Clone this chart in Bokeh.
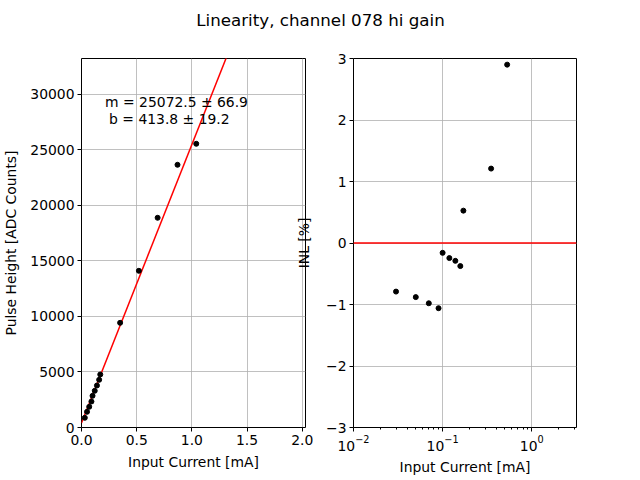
from bokeh.plotting import figure
from bokeh.layouts import column, row
from bokeh.models import (Label, Span, SingleIntervalTicker, FixedTicker, Range1d,
                          PrintfTickFormatter)
from bokeh.embed import file_html
from bokeh.resources import INLINE

# ---------------- data ----------------
title_text = "Linearity, channel 078 hi gain"
current_mA = [0.03, 0.05, 0.07, 0.09, 0.10, 0.12, 0.14, 0.16, 0.17, 0.35, 0.52, 0.69, 0.87, 1.04]
pulse_height = [874, 1414, 1865, 2342, 2856, 3306, 3784, 4297, 4775, 9432, 14117, 18892, 23667, 25559]
inl_current_mA = [0.03, 0.05, 0.07, 0.09, 0.10, 0.119, 0.139, 0.158, 0.171, 0.35, 0.53]
inl_percent = [-0.79, -0.88, -0.98, -1.06, -0.16, -0.245, -0.29, -0.375, 0.526, 1.21, 2.9]
fit_slope = 25072.5
fit_slope_err = 66.9
fit_intercept = 413.8
fit_intercept_err = 19.2
left_xlim = (0.0, 2.03)
left_ylim = (0.0, 33243.0)
right_xlim = (0.01, 3.18)
right_ylim = (-3.0, 3.0)

FONT = "DejaVu Sans"
FS = "13.9px"
GRID = "#b0b0b0"


def style(p):
    p.outline_line_color = "black"
    p.outline_line_alpha = 1.0
    p.outline_line_width = 1
    p.background_fill_color = "white"
    p.border_fill_color = "white"
    for ax in p.axis:
        ax.axis_line_color = None
        ax.major_tick_in = 0
        ax.major_tick_out = 4
        ax.major_tick_line_color = "black"
        ax.minor_tick_in = 0
        ax.minor_tick_out = 2
        ax.major_label_text_font = FONT
        ax.major_label_text_font_size = FS
        ax.major_label_text_color = "black"
        ax.axis_label_text_font = FONT
        ax.axis_label_text_font_size = FS
        ax.axis_label_text_font_style = "normal"
        ax.axis_label_text_color = "black"
        ax.major_label_standoff = 3
        ax.axis_label_standoff = 6
    for g in p.grid:
        g.grid_line_color = GRID
        g.grid_line_width = 0.8
        g.grid_line_alpha = 1.0


# ---------------- title strip ----------------
pt = figure(width=586, height=48, x_axis_type=None, y_axis_type=None,
            toolbar_location=None, output_backend="svg",
            x_range=Range1d(0, 1), y_range=Range1d(0, 1), min_border=0)
pt.outline_line_color = None
pt.add_layout(Label(x=320, y=29, x_units="screen", y_units="screen", text=title_text,
                    text_align="center", text_baseline="middle",
                    text_font=FONT, text_font_size="16.7px", text_color="black"))

# ---------------- left: pulse height ----------------
p1 = figure(width=313, height=431, toolbar_location=None, output_backend="svg",
            x_range=Range1d(*left_xlim), y_range=Range1d(*left_ylim),
            min_border_left=81, min_border_right=8, min_border_top=10, min_border_bottom=52)
p1.xaxis.axis_label = "Input Current [mA]"
p1.yaxis.axis_label = "Pulse Height [ADC Counts]"
p1.xaxis.ticker = SingleIntervalTicker(interval=0.5, num_minor_ticks=0)
p1.xaxis.formatter = PrintfTickFormatter(format="%.1f")
p1.yaxis.ticker = SingleIntervalTicker(interval=5000, num_minor_ticks=0)
p1.xgrid.ticker = p1.xaxis.ticker
p1.ygrid.ticker = p1.yaxis.ticker
style(p1)
p1.xaxis.axis_label_standoff = 6
p1.yaxis.axis_label_standoff = 8

fit_x = [left_xlim[0], left_xlim[1]]
fit_y = [fit_intercept + fit_slope * v for v in fit_x]
p1.line(fit_x, fit_y, line_color="red", line_width=1.5)
p1.scatter(current_mA, pulse_height, size=5, color="black")

p1.add_layout(Label(x=0.214, y=29300, text="m = %.1f \u00b1 %.1f" % (fit_slope, fit_slope_err),
                    text_align="left", text_baseline="middle",
                    text_font=FONT, text_font_size=FS, text_color="black"))
p1.add_layout(Label(x=0.214, y=27800, x_offset=4,
                    text="b = %.1f \u00b1 %.1f" % (fit_intercept, fit_intercept_err),
                    text_align="left", text_baseline="middle",
                    text_font=FONT, text_font_size=FS, text_color="black"))

# ---------------- right: INL ----------------
p2 = figure(width=293, height=431, toolbar_location=None, output_backend="svg",
            x_axis_type="log", x_range=Range1d(*right_xlim), y_range=Range1d(*right_ylim),
            min_border_left=59, min_border_right=10, min_border_top=10, min_border_bottom=52)
p2.margin = (0, 0, 0, -20)
p2.xaxis.axis_label = "Input Current [mA]"
p2.yaxis.axis_label = "INL [%]"
minors = [m * 10.0 ** e for e in (-2, -1, 0) for m in range(2, 10) if m * 10.0 ** e <= right_xlim[1]]
p2.xaxis.ticker = FixedTicker(ticks=[0.01, 0.1, 1.0], minor_ticks=minors)
p2.xgrid.ticker = FixedTicker(ticks=[0.01, 0.1, 1.0])
p2.yaxis.ticker = SingleIntervalTicker(interval=1, num_minor_ticks=0)
p2.ygrid.ticker = p2.yaxis.ticker
style(p2)
p2.border_fill_color = None
p2.xaxis.axis_label_standoff = 5
p2.yaxis.axis_label_standoff = 11

p2.add_layout(Span(location=0, dimension="width", line_color="red", line_width=1.5))
p2.scatter(inl_current_mA, inl_percent, size=5, color="black")

layout = column(pt, row(p1, p2))
open("out.html", "w").write(file_html(layout, INLINE))
